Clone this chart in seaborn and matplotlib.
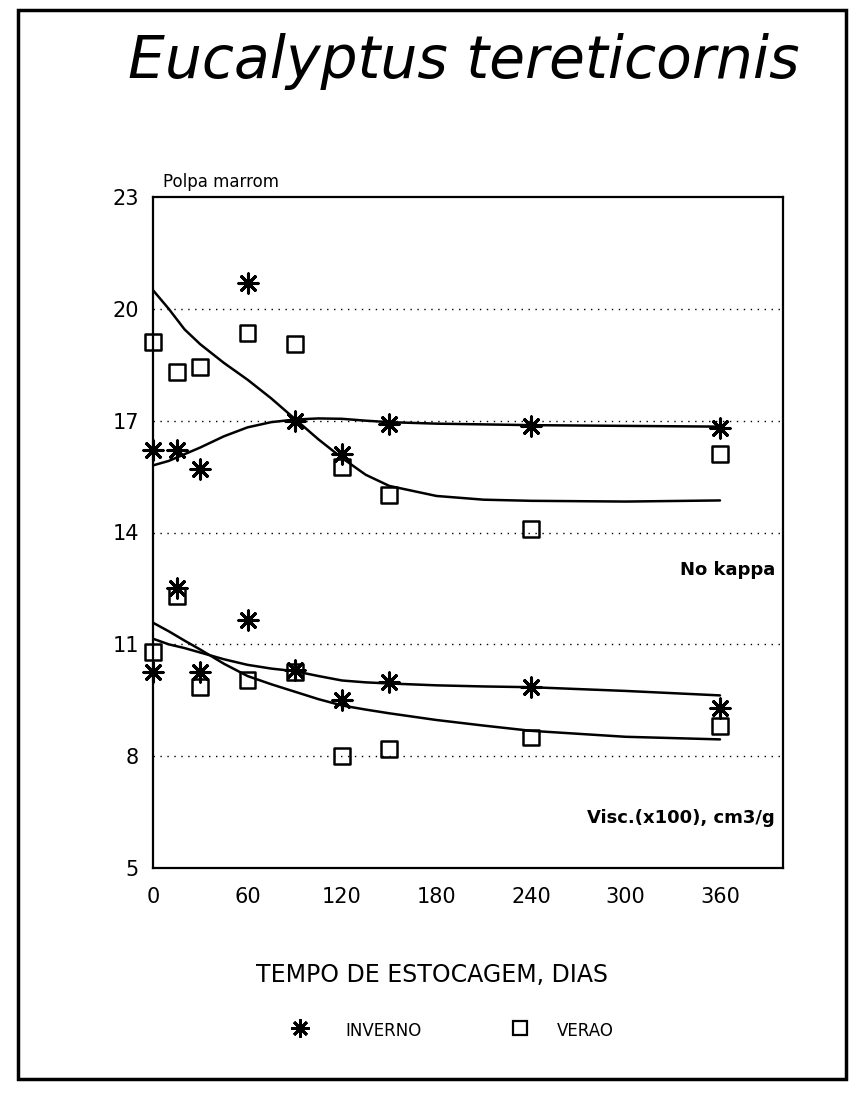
import matplotlib
matplotlib.use("Agg")
import matplotlib.pyplot as plt
import seaborn as sns
import pandas as pd

# storage time (days) of the measured points
days = [0, 15, 30, 60, 90, 120, 150, 240, 360]

# kappa number
kappa_inverno = [16.2, 16.2, 15.7, 20.7, 17.0, 16.1, 16.9, 16.85, 16.8]
kappa_verao = [19.1, 18.3, 18.45, 19.35, 19.05, 15.75, 15.0, 14.1, 16.1]

# viscosity (x100), cm3/g
visc_inverno = [10.25, 12.5, 10.25, 11.65, 10.3, 9.5, 10.0, 9.85, 9.3]
visc_verao = [10.8, 12.3, 9.85, 10.05, 10.25, 8.0, 8.2, 8.5, 8.8]

# fitted curves
curve_days = [0, 10, 20, 30, 45, 60, 75, 90, 105, 120, 135, 150, 180, 210, 240, 300, 360]
fit_kappa_inverno = [15.8, 15.92, 16.1, 16.28, 16.58, 16.82, 16.96, 17.03, 17.06, 17.05,
                     17.0, 16.96, 16.92, 16.9, 16.88, 16.86, 16.84]
fit_kappa_verao = [20.5, 20.0, 19.45, 19.05, 18.55, 18.1, 17.6, 17.05, 16.5, 16.0,
                   15.55, 15.25, 14.98, 14.88, 14.85, 14.83, 14.86]
fit_visc_inverno = [11.15, 11.0, 10.9, 10.78, 10.6, 10.45, 10.35, 10.28, 10.15, 10.03,
                    9.98, 9.95, 9.9, 9.87, 9.85, 9.75, 9.63]
fit_visc_verao = [11.58, 11.35, 11.1, 10.86, 10.48, 10.15, 9.93, 9.73, 9.53, 9.36,
                  9.25, 9.15, 8.97, 8.82, 8.68, 8.52, 8.45]

x_ticks = [0, 60, 120, 180, 240, 300, 360]
y_ticks = [5, 8, 11, 14, 17, 20, 23]
grid_levels = [8, 11, 14, 17, 20]

sns.set_style("white")
plt.rcParams["font.family"] = ["DejaVu Sans"]
plt.rcParams["text.color"] = "black"
plt.rcParams["xtick.color"] = "black"
plt.rcParams["ytick.color"] = "black"

fig = plt.figure(figsize=(8.5, 10.97), dpi=100)
ax = fig.add_axes([153 / 850, 1 - 868 / 1097, 630 / 850, 671 / 1097])

for lev in grid_levels:
    ax.axhline(lev, color="black", lw=1.0, ls=(0, (1, 4)), zorder=1)

star = (8, 2, 0)
pts = pd.DataFrame({"dias": days * 4,
                    "valor": kappa_inverno + kappa_verao + visc_inverno + visc_verao,
                    "serie": ["INVERNO"] * 9 + ["VERAO"] * 9 + ["INVERNO"] * 9 + ["VERAO"] * 9})
inv = pts[pts["serie"] == "INVERNO"]
ver = pts[pts["serie"] == "VERAO"]
sns.scatterplot(data=inv, x="dias", y="valor", marker=star, s=190, color="black",
                linewidth=2.2, ax=ax, zorder=3, legend=False, clip_on=False)
sns.scatterplot(data=ver, x="dias", y="valor", marker="s", s=130, facecolor="none",
                edgecolor="black", linewidth=1.8, ax=ax, zorder=3, legend=False, clip_on=False)

for fit in [fit_kappa_inverno, fit_kappa_verao, fit_visc_inverno, fit_visc_verao]:
    sns.lineplot(x=curve_days, y=fit, color="black", lw=1.8, ax=ax, sort=False,
                 estimator=None, zorder=2)

ax.set_xlim(0, 400)
ax.set_ylim(5, 23)
ax.set_xticks(x_ticks)
ax.set_yticks(y_ticks)
ax.tick_params(direction="in", length=8, width=1.2, labelsize=15, pad=14)
ax.tick_params(axis="y", pad=10)
for sp in ax.spines.values():
    sp.set_color("black")
    sp.set_linewidth(1.6)
ax.set_xlabel("")
ax.set_ylabel("")

ax.text(0.987, 0.444, "No kappa", transform=ax.transAxes, ha="right", va="center",
        fontsize=13, fontweight="bold")
ax.text(0.987, 0.075, "Visc.(x100), cm3/g", transform=ax.transAxes, ha="right", va="center",
        fontsize=13, fontweight="bold")

fig.text(163 / 850, 1 - 182 / 1097, "Polpa marrom", ha="left", va="center", fontsize=12)
fig.text(464 / 850, 1 - 62 / 1097, "Eucalyptus tereticornis", ha="center", va="center",
         fontsize=42, style="italic")
fig.text(432 / 850, 1 - 975 / 1097, "TEMPO DE ESTOCAGEM, DIAS", ha="center", va="center",
         fontsize=17)

# legend row
fig.lines.append(plt.Line2D([300 / 850], [1 - 1028 / 1097], marker=star, ms=13, mew=2.0,
                            color="black", transform=fig.transFigure))
fig.text(345 / 850, 1 - 1031 / 1097, "INVERNO", ha="left", va="center", fontsize=12)
fig.lines.append(plt.Line2D([520 / 850], [1 - 1028 / 1097], marker="s", ms=10, mew=1.6,
                            mfc="none", color="black", transform=fig.transFigure))
fig.text(557 / 850, 1 - 1031 / 1097, "VERAO", ha="left", va="center", fontsize=12)

# outer frame
frame = plt.Rectangle((18 / 850, 1 - 1079 / 1097), 828 / 850, 1069 / 1097,
                      transform=fig.transFigure, fill=False, lw=2.5, color="black")
fig.patches.append(frame)

fig.savefig("out.png", dpi=100, facecolor="white")
